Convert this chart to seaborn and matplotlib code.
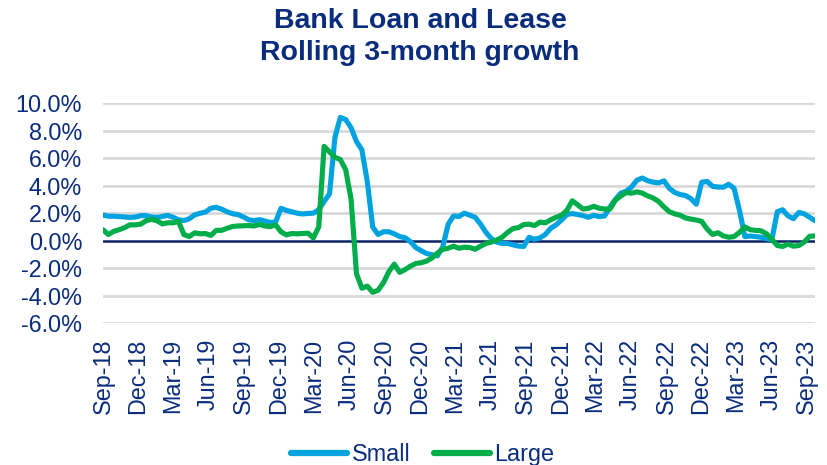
import matplotlib
matplotlib.use("Agg")
import matplotlib.pyplot as plt
import matplotlib.dates as mdates
from matplotlib.lines import Line2D
from matplotlib.ticker import FuncFormatter, MultipleLocator
import pandas as pd
import seaborn as sns

# Rolling 3-month growth of bank loans and leases (%), biweekly observations
start_date = "2018-09-01"
step = "14D"

small = [
    1.86, 1.78, 1.78, 1.75, 1.72, 1.69, 1.72, 1.82, 1.82, 1.72,
    1.69, 1.76, 1.84, 1.70, 1.52, 1.46, 1.59, 1.88, 1.99, 2.08,
    2.36, 2.42, 2.29, 2.10, 1.96, 1.90, 1.73, 1.52, 1.46, 1.53,
    1.43, 1.33, 1.35, 2.35, 2.20, 2.10, 2.00, 1.94, 1.98, 2.00,
    2.25, 2.85, 3.40, 7.50, 8.95, 8.80, 8.20, 7.20, 6.60, 4.30,
    1.00, 0.45, 0.65, 0.65, 0.50, 0.30, 0.22, -0.07, -0.50, -0.73,
    -0.93, -1.02, -1.10, -0.44, 1.20, 1.80, 1.76, 2.00, 1.85, 1.70,
    1.20, 0.60, 0.15, -0.10, -0.20, -0.20, -0.30, -0.39, -0.42, 0.25,
    0.10, 0.20, 0.45, 0.90, 1.15, 1.50, 1.90, 1.97, 1.90, 1.82,
    1.70, 1.85, 1.75, 1.80, 2.45, 3.00, 3.45, 3.60, 3.90, 4.40,
    4.55, 4.35, 4.25, 4.20, 4.35, 3.80, 3.50, 3.35, 3.28, 3.05,
    2.65, 4.25, 4.30, 3.95, 3.90, 3.88, 4.10, 3.80, 2.20, 0.30,
    0.34, 0.30, 0.25, 0.15, 0.07, 2.10, 2.25, 1.80, 1.60, 2.05,
    1.95, 1.70, 1.45,
]

large = [
    0.80, 0.45, 0.68, 0.80, 0.95, 1.15, 1.15, 1.20, 1.45, 1.55,
    1.45, 1.22, 1.30, 1.30, 1.40, 0.45, 0.30, 0.57, 0.50, 0.52,
    0.38, 0.75, 0.75, 0.90, 1.03, 1.07, 1.08, 1.10, 1.07, 1.18,
    1.07, 1.02, 1.15, 0.65, 0.42, 0.52, 0.50, 0.52, 0.55, 0.20,
    1.00, 6.85, 6.45, 6.05, 5.90, 5.15, 3.00, -2.40, -3.45, -3.30,
    -3.75, -3.60, -3.05, -2.25, -1.70, -2.30, -2.10, -1.85, -1.65, -1.60,
    -1.48, -1.25, -0.90, -0.62, -0.55, -0.40, -0.55, -0.47, -0.50, -0.62,
    -0.40, -0.20, -0.10, 0.05, 0.25, 0.60, 0.88, 0.95, 1.17, 1.20,
    1.10, 1.35, 1.30, 1.52, 1.70, 1.85, 2.20, 2.90, 2.60, 2.30,
    2.35, 2.50, 2.35, 2.30, 2.30, 2.95, 3.25, 3.50, 3.45, 3.55,
    3.45, 3.25, 3.10, 2.85, 2.45, 2.10, 1.95, 1.85, 1.65, 1.57,
    1.50, 1.40, 0.85, 0.45, 0.58, 0.35, 0.25, 0.30, 0.60, 1.00,
    0.80, 0.75, 0.72, 0.50, 0.10, -0.35, -0.42, -0.25, -0.40, -0.35,
    -0.10, 0.32, 0.35,
]

series_names = ["Small", "Large"]
series_colors = ["#00A3E0", "#00AD4A"]
chart_title = "Bank Loan and Lease\nRolling 3-month growth"
y_ticks = [-6, -4, -2, 0, 2, 4, 6, 8, 10]

navy = "#0A2C7C"
grid_gray = "#D9D9D9"
zero_color = "#0B2265"

dates = pd.date_range(start_date, periods=len(small), freq=step)
df = pd.DataFrame({
    "date": list(dates) * 2,
    "growth": small + large,
    "series": [series_names[0]] * len(small) + [series_names[1]] * len(large),
})

sns.set_style("white")
plt.rcParams["font.family"] = ["Liberation Sans", "DejaVu Sans"]

fig = plt.figure(figsize=(8.27, 4.65), dpi=100)
ax = fig.add_axes([0.1245, 0.3047, 0.861, 0.4738])

for yv in y_ticks:
    if yv != 0:
        ax.axhline(yv, color=grid_gray, lw=2.0, zorder=0)

sns.lineplot(data=df, x="date", y="growth", hue="series",
             hue_order=series_names, palette=series_colors,
             linewidth=3.7, ax=ax, legend=False, zorder=3)
ax.axhline(0, color=zero_color, lw=1.8, zorder=2)

ax.set_xlim(dates[0], dates[-1])
ax.set_ylim(-6, 10)
ax.yaxis.set_major_locator(MultipleLocator(2))
ax.yaxis.set_major_formatter(FuncFormatter(lambda v, _: f"{v:.1f}%"))
ax.xaxis.set_major_locator(mdates.MonthLocator(bymonth=(3, 6, 9, 12)))
ax.xaxis.set_major_formatter(mdates.DateFormatter("%b-%y"))
ax.set_xlabel("")
ax.set_ylabel("")
ax.grid(False)
for s in ax.spines.values():
    s.set_visible(False)

ax.tick_params(axis="y", length=0, pad=15, labelsize=16.8, labelcolor=navy)
ax.tick_params(axis="x", length=0, pad=11, labelsize=16.8, labelcolor=navy,
               labelrotation=90)

fig.text(0.508, 0.982, chart_title, ha="center", va="top", fontsize=20.5,
         fontweight="bold", color=navy, linespacing=1.28)

handles = [Line2D([0], [0], color=c, lw=4.5, solid_capstyle="round")
           for c in series_colors]
fig.legend(handles, series_names, loc="lower center", ncol=2, frameon=False,
           bbox_to_anchor=(0.511, -0.047), fontsize=16.8, labelcolor=navy,
           handlelength=2.4, handletextpad=0.2, columnspacing=1.0)

fig.savefig("out.png", dpi=100)
